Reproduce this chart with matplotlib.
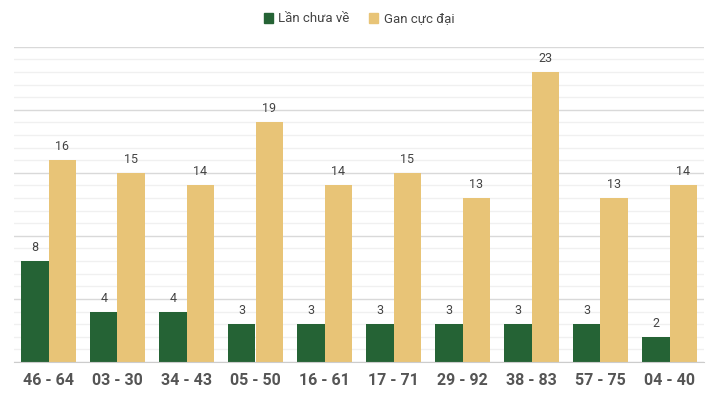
import matplotlib
matplotlib.use("Agg")
import matplotlib.pyplot as plt
import numpy as np
from matplotlib.patches import Patch

categories = ["46 - 64", "03 - 30", "34 - 43", "05 - 50", "16 - 61", "17 - 71", "29 - 92", "38 - 83", "57 - 75", "04 - 40"]
lan_chua_ve = [8, 4, 4, 3, 3, 3, 3, 3, 3, 2]
gan_cuc_dai = [16, 15, 14, 19, 14, 15, 13, 23, 13, 14]

plt.rcParams['font.family'] = ['Roboto', 'DejaVu Sans']

green = "#256335"
tan = "#E8C477"

fig = plt.figure(figsize=(7.18, 4.0), dpi=100)
ax = fig.add_axes([14/718, 38/400, 690/718, 315.3/400])

x = np.arange(len(categories))
w = 0.4
b1 = ax.bar(x - w/2, lan_chua_ve, w, color=green, zorder=3)
b2 = ax.bar(x + w/2, gan_cuc_dai, w, color=tan, zorder=3)

for rect, v in zip(list(b1) + list(b2), lan_chua_ve + gan_cuc_dai):
    ax.text(rect.get_x() + rect.get_width()/2, v + 0.55, str(v), ha='center', va='bottom',
            fontsize=9, color='#444444', zorder=4)

ax.set_xlim(-0.5, len(categories) - 0.5)
ax.set_ylim(0, 25)
ax.set_yticks(np.arange(0, 26, 5))
ax.set_yticks(np.arange(0, 26, 1), minor=True)
ax.grid(axis='y', which='major', color='#d9d9d9', linewidth=1, zorder=0)
ax.grid(axis='y', which='minor', color='#f0f0f0', linewidth=1, zorder=0)
ax.tick_params(axis='y', which='both', left=False, labelleft=False)
ax.tick_params(axis='x', length=0, pad=8)
ax.set_xticks(x)
ax.set_xticklabels(categories, fontsize=11.5, fontweight='bold', color='#555555')
for s in ['top', 'left', 'right']:
    ax.spines[s].set_visible(False)
ax.spines['bottom'].set_color('#cccccc')
ax.spines['bottom'].set_zorder(5)

handles = [Patch(color=green, label='Lần chưa về'), Patch(color=tan, label='Gan cực đại')]
fig.legend(handles=handles, loc='center', bbox_to_anchor=(0.5, 19/400 if False else 1 - 19/400), ncol=2,
           frameon=False, fontsize=9.5, handlelength=0.7, handleheight=0.7, handletextpad=0.4,
           columnspacing=1.5, labelcolor='#444444')

fig.savefig("out.png", dpi=100)
